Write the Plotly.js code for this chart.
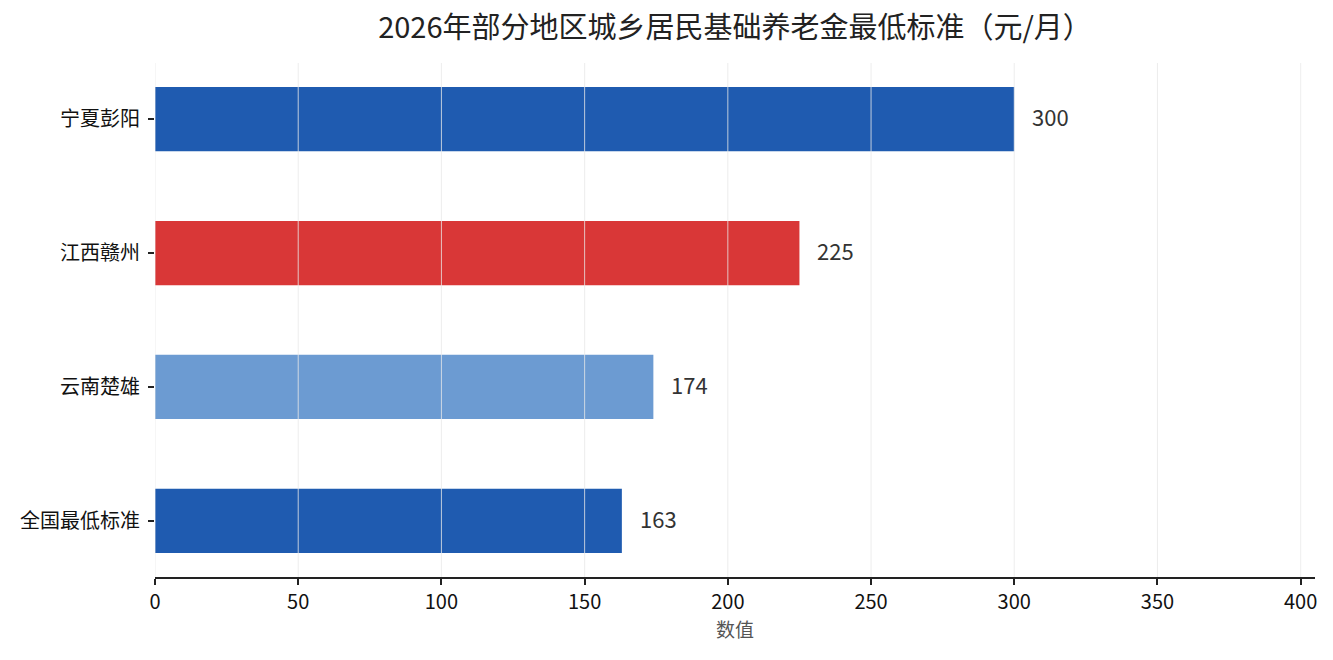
<!DOCTYPE html>
<html>
<head>
<meta charset="utf-8">
<script src="https://cdn.plot.ly/plotly-3.0.1.min.js"></script>
<style>
  html, body { margin: 0; padding: 0; background: #fff; }
  #chart { width: 1333px; height: 660px; }
</style>
</head>
<body>
<div id="chart"></div>
<script>
// 2026年部分地区城乡居民基础养老金最低标准（元/月）
const regions = ['宁夏彭阳', '江西赣州', '云南楚雄', '全国最低标准'];
const pension = [300, 225, 174, 163];
const barColors = ['#1f5bb0', '#d93737', '#6c9bd2', '#1f5bb0'];
const xTicks = [0, 50, 100, 150, 200, 250, 300, 350, 400];

const font = '"Noto Sans CJK SC", "Noto Sans", sans-serif';

const trace = {
  type: 'bar',
  orientation: 'h',
  x: pension,
  y: regions,
  width: 0.48,
  marker: { color: barColors },
  hoverinfo: 'x+y'
};

// value labels just past the end of each bar
const labels = pension.map((v, i) => ({
  x: v,
  y: regions[i],
  text: String(v),
  xanchor: 'left',
  xshift: 16,
  yshift: 3,
  showarrow: false,
  font: { family: font, size: 22, color: '#333' }
}));

// grid lines sit on top of the bars in the original, so draw them as shapes
const grid = xTicks.map(t => ({
  type: 'line',
  xref: 'x',
  yref: 'paper',
  x0: t, x1: t,
  y0: 0, y1: 1,
  layer: 'above',
  line: { color: 'rgba(232,232,232,0.8)', width: 1 }
}));

const layout = {
  width: 1333,
  height: 660,
  margin: { l: 155, r: 18, t: 63, b: 83 },
  paper_bgcolor: '#fff',
  plot_bgcolor: '#fff',
  font: { family: font, color: '#222' },
  title: {
    text: '2026年部分地区城乡居民基础养老金最低标准（元/月）',
    font: { family: font, size: 29, color: '#222' },
    x: 0.5,
    xref: 'paper',
    y: 0.958,
    yanchor: 'middle'
  },
  xaxis: {
    range: [0, 405],
    tickvals: xTicks,
    showline: true,
    linecolor: '#222',
    linewidth: 2,
    ticks: 'outside',
    ticklen: 6,
    tickwidth: 2,
    tickcolor: '#222',
    tickfont: { family: font, size: 20, color: '#111' },
    showgrid: false,
    zeroline: false,
    layer: 'above traces',
    title: { text: '数值', font: { family: font, size: 19, color: '#555' }, standoff: 10 }
  },
  yaxis: {
    type: 'category',
    range: [3.42, -0.42],
    showline: false,
    showgrid: false,
    zeroline: false,
    ticks: 'outside',
    ticklen: 6,
    tickwidth: 2,
    tickcolor: '#222',
    ticklabelstandoff: 4,
    tickfont: { family: font, size: 20, color: '#111' }
  },
  shapes: grid,
  annotations: labels,
  showlegend: false
};

Plotly.newPlot('chart', [trace], layout, { displayModeBar: false, staticPlot: true });
</script>
</body>
</html>
